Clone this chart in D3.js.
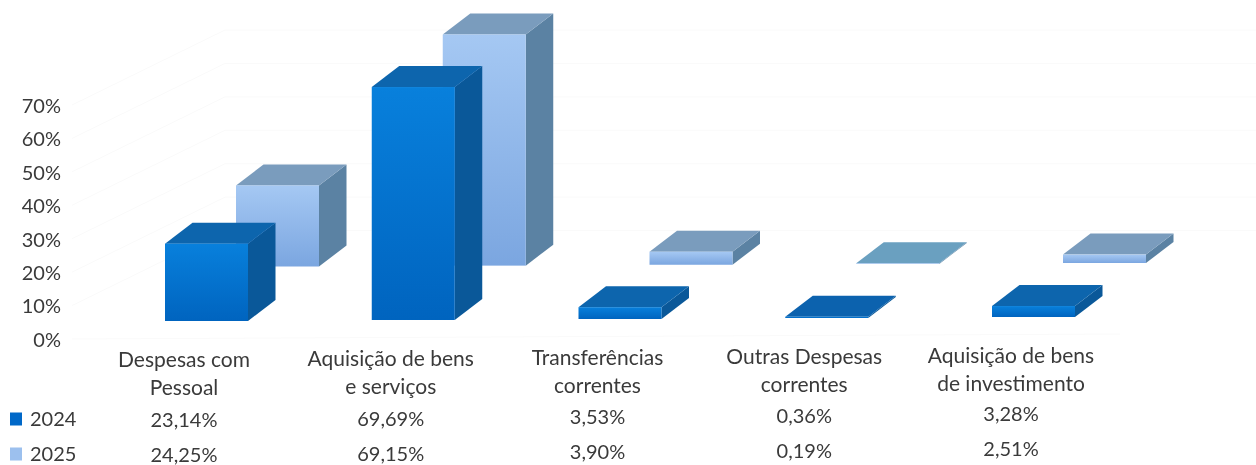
<!DOCTYPE html>
<html>
<head>
<meta charset="utf-8">
<script src="https://cdn.jsdelivr.net/npm/d3@7"></script>
<style>
html,body{margin:0;padding:0;background:#fff;overflow:hidden}
text{font-family:Lato,"Open Sans",sans-serif;fill:#3a3a3a}
</style>
</head>
<body>
<svg id="c" width="1256" height="465" style="filter:blur(0.35px)"></svg>
<script>
const categories = [["Despesas com","Pessoal"],["Aquisição de bens","e serviços"],["Transferências","correntes"],["Outras Despesas","correntes"],["Aquisição de bens","de investimento"]];
const years = ["2024","2025"];
const values2024 = [23.14,69.69,3.53,0.36,3.28];
const values2025 = [24.25,69.15,3.90,0.19,2.51];
const yTicks = [0,10,20,30,40,50,60,70];

const W=1256,H=465;
const svg=d3.select("#c");
const defs=svg.append("defs");
function grad(id,a,b){
  const g=defs.append("linearGradient").attr("id",id).attr("x1",0).attr("x2",0).attr("y1",0).attr("y2",1);
  g.append("stop").attr("offset",0).attr("stop-color",a);
  g.append("stop").attr("offset",1).attr("stop-color",b);
}
grad("f0","#0880dc","#0064bf");
grad("f1","#a5c8f3","#7ba6e0");

const y=d3.scaleLinear().domain([0,70]).range([339,105]);
const x=d3.scalePoint().domain(d3.range(categories.length)).range([165,992]);
const base0=d3.scaleLinear().domain([0,4]).range([321,317]);
const base1=d3.scaleLinear().domain([0,4]).range([266.5,263]);
const labelTilt=d3.scaleLinear().domain([0,4]).range([0,-4]);
const valueTilt=d3.scaleLinear().domain([0,4]).range([0,-6]);
const barW=83,dx=27.5,dy=21,backDx=71;

// faint chart walls
const grid=svg.append("g").attr("stroke","#fafafa").attr("fill","none");
grid.selectAll("line.w").data(yTicks.slice(1).concat(80,90)).join("line")
  .attr("x1",225).attr("x2",W).attr("y1",d=>y(d)-75).attr("y2",d=>y(d)-75);
grid.selectAll("line.s").data(yTicks.slice(1)).join("line")
  .attr("x1",72).attr("x2",225).attr("y1",d=>y(d)).attr("y2",d=>y(d)-75);
grid.append("line").attr("x1",72).attr("x2",1120).attr("y1",y(0)).attr("y2",y(0)-5);

// y axis
const ax=svg.append("g").attr("transform","translate(66,1)")
  .call(d3.axisLeft(y).tickValues(yTicks).tickSize(0).tickPadding(5).tickFormat(d=>d+"%"));
ax.select(".domain").remove();
ax.selectAll("text").style("font-family","Lato,'Open Sans',sans-serif").style("font-size","20px").style("fill","#3a3a3a");

// bars
const styles=[
 {front:"url(#f0)",top:"#0d65ad",side:"#0a5899",off:0,base:base0,vals:values2024},
 {front:"url(#f1)",top:"#7a9cbd",side:"#5b82a3",off:backDx,base:base1,vals:values2025}
];
function bar(g,i,s){
  const v=s.vals[i], x0=x(i)+s.off, b=s.base(i), h=y(0)-y(v), t=b-h, x1=x0+barW;
  const topFill = v<1 ? (s.off? "#6aa0c0":"#0c62ae") : s.top;
  g.append("path").attr("fill",s.side).attr("d",`M${x1},${b}L${x1+dx},${b-dy}L${x1+dx},${t-dy}L${x1},${t}Z`);
  g.append("path").attr("fill",topFill).attr("d",`M${x0},${t}L${x0+dx},${t-dy}L${x1+dx},${t-dy}L${x1},${t}Z`);
  g.append("rect").attr("x",x0).attr("y",t).attr("width",barW).attr("height",Math.max(h,0.5)).attr("fill",s.front);
}
const bars=svg.append("g");
categories.forEach((c,i)=>{ bar(bars,i,styles[1]); bar(bars,i,styles[0]); });

// table
const fmt=v=>v.toFixed(2).replace(".",",")+"%";
const cx=i=>x(i)+19;
const tbl=svg.append("g").attr("text-anchor","middle");
categories.forEach((c,i)=>{
  c.forEach((line,k)=>{
    tbl.append("text").attr("x",cx(i)).attr("y",360+k*27.5+labelTilt(i)).attr("dy","0.35em").style("font-size","21px").text(line);
  });
  tbl.append("text").attr("x",cx(i)).attr("y",420+valueTilt(i)).attr("dy","0.35em").style("font-size","20px").text(fmt(values2024[i]));
  tbl.append("text").attr("x",cx(i)).attr("y",455+valueTilt(i)).attr("dy","0.35em").style("font-size","20px").text(fmt(values2025[i]));
});

// legend
const legY=[419,454], legC=["#0068c8","#9cc0ee"];
years.forEach((yr,i)=>{
  svg.append("rect").attr("x",10).attr("y",legY[i]-6.5).attr("width",12).attr("height",13).attr("fill",legC[i]);
  svg.append("text").attr("x",30).attr("y",legY[i]).attr("dy","0.35em").style("font-size","20px").text(yr);
});
</script>
</body>
</html>
